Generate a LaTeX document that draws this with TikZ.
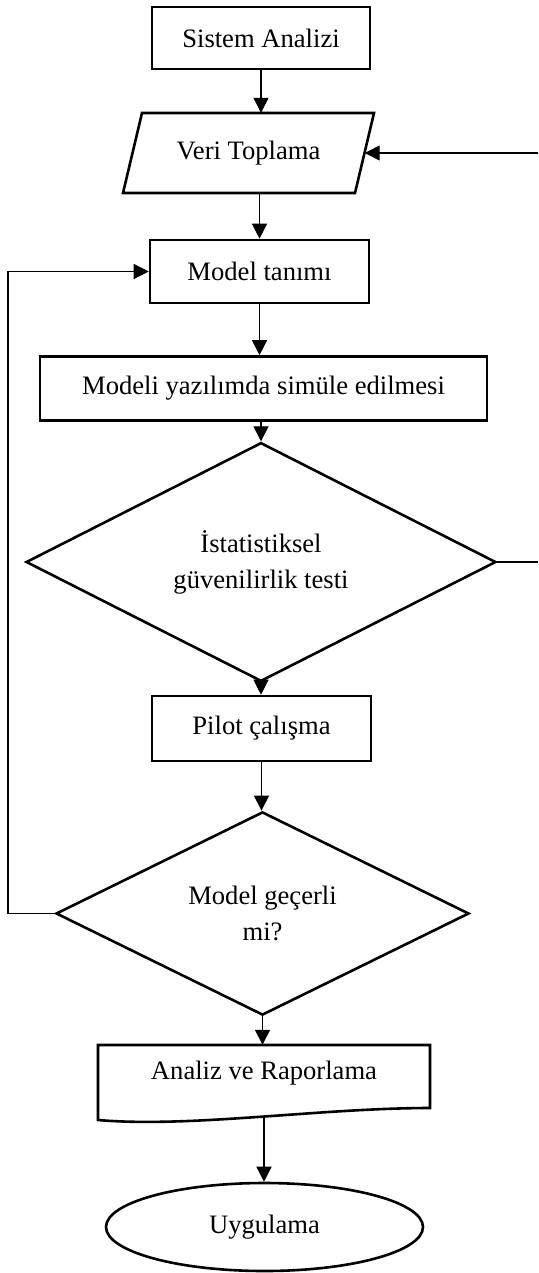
\documentclass[tikz,border=0pt]{standalone}
\usepackage{fontspec}
\setmainfont{Liberation Serif}
\usetikzlibrary{shapes.geometric,arrows.meta}
\begin{document}
\begin{tikzpicture}[x=1pt,y=-1pt,
  every node/.style={font=\fontsize{26.6}{36}\selectfont, align=center},
  boxst/.style={draw, line width=2.6pt, rectangle, inner sep=0pt},
  dia/.style={draw, line width=2.6pt, diamond, inner sep=0pt},
  ghost/.style={rectangle, inner sep=0pt},
  shapeline/.style={line width=2.6pt, line join=miter},
  arr/.style={line width=1.3pt, -{Triangle[length=15pt,width=15pt]}},
  ln/.style={line width=1.3pt}
]
\useasboundingbox (0,0) rectangle (538,1273);

\node[boxst, minimum width=218pt, minimum height=62pt] (sistem) at (261,38) {Sistem Analizi};

\draw[shapeline] (142,113) -- (374,113) -- (355,193) -- (123,193) -- cycle;
\node[ghost, minimum width=232pt, minimum height=80pt] (veri) at (248.5,153) {Veri Toplama};

\node[boxst, minimum width=219pt, minimum height=63pt] (model) at (259.5,271.5) {Model tanımı};

\node[boxst, minimum width=447pt, minimum height=64pt] (simul) at (263.5,388.5) {Modeli yazılımda simüle edilmesi};

\node[dia, minimum width=470pt, minimum height=194pt] (test) at (261,562) {İstatistiksel\\güvenilirlik testi};

\node[boxst, minimum width=219pt, minimum height=65pt] (pilot) at (261.5,728.5) {Pilot çalışma};

\node[dia, minimum width=413pt, minimum height=189pt] (gecer) at (262.5,913.5) {Model geçerli\\mi?};

\draw[shapeline] (98,1120) -- (98,1045) -- (430,1045) -- (430,1108)
  .. controls (320,1108) and (190,1128) .. (98,1120) -- cycle;
\node[ghost, minimum width=332pt, minimum height=73pt] (analiz) at (264,1081.5) {};
\node[ghost] (analiztxt) at (264,1073) {Analiz ve Raporlama};

\node[draw, ellipse, line width=2.6pt, inner sep=0pt, minimum width=317pt, minimum height=88pt] (uygula) at (264.5,1227) {Uygulama};

\coordinate (loopx) at (8,0);
\coordinate (rin) at (538,153);
\coordinate (rout) at (538,562);

\draw[arr] (sistem.south) -- (sistem.south |- veri.north);
\draw[arr] (model.north |- veri.south) -- (model.north);
\draw[arr] (model.south) -- (model.south |- simul.north);
\draw[arr] (simul.south -| test.north) -- (test.north);
\draw[arr] (test.south) -- (test.south |- pilot.north);
\draw[arr] (pilot.south) -- (pilot.south |- gecer.north);
\draw[arr] (gecer.south) -- (gecer.south |- analiz.north);
\draw[arr] (analiz.south) -- (analiz.south |- uygula.north);
\draw[arr] (gecer.west) -- (gecer.west -| loopx) -- (model.west -| loopx) -- (model.west);
\draw[ln] (test.east) -- (rout);
\draw[arr] (rin) -- (veri.east);
\end{tikzpicture}
\end{document}
